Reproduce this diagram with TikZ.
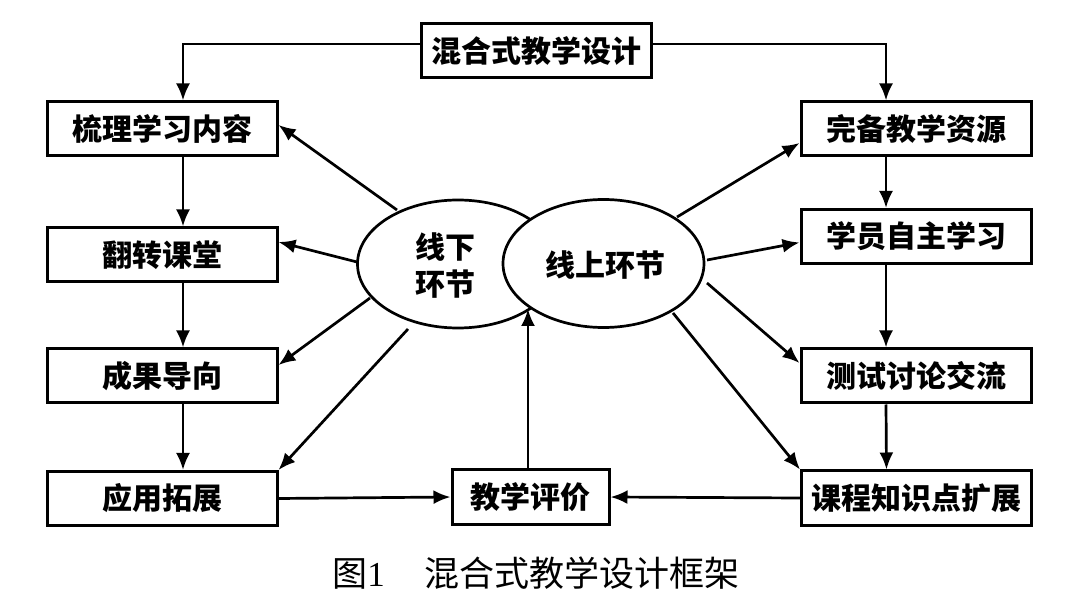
\documentclass[tikz,border=0pt]{standalone}
\usepackage{fontspec}
\setmainfont{Liberation Serif}
\newfontfamily\cjk{Noto Sans CJK SC}
\usetikzlibrary{shapes.geometric,arrows.meta}
\begin{document}
\begin{tikzpicture}[x=1pt,y=-1pt,
  box/.style={draw,line width=3pt,minimum width=230pt,minimum height=54pt,inner sep=0pt,
    font=\cjk\bfseries\fontsize{30}{34}\selectfont},
  conn/.style={line width=2.7pt,-{Latex[length=17pt,width=14pt]}},
  ell/.style={draw,ellipse,line width=2.7pt,fill=white,inner sep=0pt,minimum width=201pt,minimum height=128pt},
  lbl/.style={font=\cjk\bfseries\fontsize{30}{37}\selectfont,align=center,inner sep=0pt}]
\useasboundingbox (0,0) rectangle (1066,609);
\fill[white] (0,0) rectangle (1066,609);

% boxes
\node[box] (top) at (536,51) {混合式教学设计};
\node[box] (b1) at (162,129) {梳理学习内容};
\node[box] (b2) at (162,255) {翻转课堂};
\node[box] (b3) at (162,376) {成果导向};
\node[box] (b4) at (162,498.5) {应用拓展};
\node[box] (r1) at (916,129) {完备教学资源};
\node[box] (r2) at (916,236.5) {学员自主学习};
\node[box] (r3) at (916,376) {测试讨论交流};
\node[box] (r4) at (916.5,498) {课程知识点扩展};
\node[box,minimum width=157pt] (ev) at (530.5,497) {教学评价};

% ellipses
\node[ell] (L) at (458,264) {};
\node[ell] (R) at (603.5,263.5) {};
\node[lbl] (Lt) at (445,266) {线下\\环节};
\node[lbl] (Rt) at (605,265) {线上环节};

% arrow start points on the ellipses
\coordinate (sL1) at (397,210);
\coordinate (sL2) at (357,262);
\coordinate (sL3) at (370,298);
\coordinate (sL4) at (408,329);
\coordinate (sR1) at (677,217);
\coordinate (sR2) at (707,260);
\coordinate (sR3) at (707,283);
\coordinate (sR4) at (673,313);
\coordinate (J) at (528,309);

% top connectors
\draw[conn] ([yshift=7pt]top.west) -| ([xshift=21pt]b1.north);
\draw[conn] ([yshift=7pt]top.east) -| ([xshift=-30pt]r1.north);

% left column
\draw[conn] ([xshift=21pt]b1.south) -- ([xshift=21pt]b2.north);
\draw[conn] ([xshift=21pt]b2.south) -- ([xshift=21pt]b3.north);
\draw[conn] ([xshift=21pt]b3.south) -- ([xshift=21pt]b4.north);

% right column
\draw[conn] ([xshift=-30pt]r1.south) -- ([xshift=-30pt]r2.north);
\draw[conn] ([xshift=-30pt]r2.south) -- ([xshift=-30pt]r3.north);
\draw[conn] ([xshift=-30pt]r3.south) -- ([xshift=-30pt]r4.north);

% from ellipses
\draw[conn] (sL1) -- ([yshift=4pt]b1.east);
\draw[conn] (sL2) -- ([yshift=13pt]b2.east);
\draw[conn] (sL3) -- ([yshift=11pt]b3.east);
\draw[conn] (sL4) -- (b4.north east);
\draw[conn] (sR1) -- ([yshift=-14pt]r1.west);
\draw[conn] (sR2) -- ([yshift=-6pt]r2.west);
\draw[conn] (sR3) -- ([yshift=13pt]r3.west);
\draw[conn] (sR4) -- (r4.north west);

% bottom row
\draw[conn] (b4.east) -- (ev.west);
\draw[conn] (r4.west) -- (ev.east);
\draw[conn] ([xshift=-2.5pt]ev.north) -- (J);

% caption
\node[font=\cjk\fontsize{35}{40}\selectfont,inner sep=0pt] (cap) at (536,573) {图{\rmfamily 1}\hspace{40pt}混合式教学设计框架};
\end{tikzpicture}
\end{document}
